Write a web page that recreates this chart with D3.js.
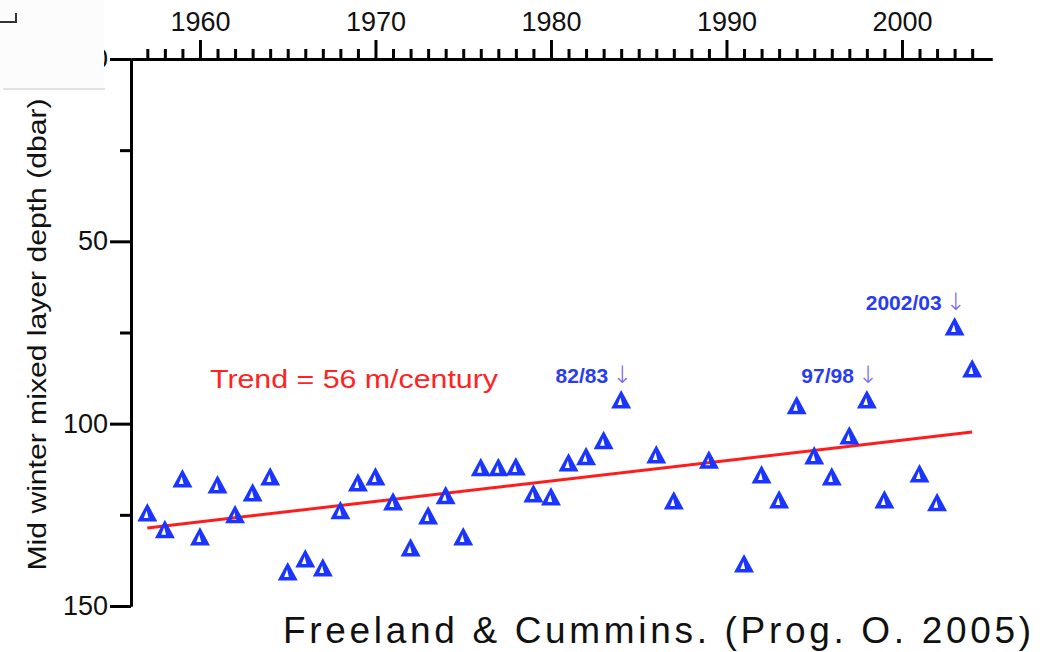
<!DOCTYPE html>
<html>
<head>
<meta charset="utf-8">
<script src="https://cdn.jsdelivr.net/npm/d3@7"></script>
<style>
  body { margin: 0; background: #fff; }
  svg { display: block; }
  .axis path, .axis line { stroke: #000; stroke-width: 3; }
  .axis text { font-family: "Liberation Sans", Arial, sans-serif; font-size: 27px; fill: #111; }
</style>
</head>
<body>
<svg id="chart" width="1048" height="652"></svg>
<script>
// winter mixed layer depth by year (dbar)
const years = [1957, 1958, 1959, 1960, 1961, 1962, 1963, 1964, 1965, 1966, 1967, 1968, 1969, 1970,
  1971, 1972, 1973, 1974, 1975, 1976, 1977, 1978, 1979, 1980, 1981, 1982, 1983, 1984,
  1986, 1987, 1989, 1991, 1992, 1993, 1994, 1995, 1996, 1997, 1998, 1999, 2001, 2002, 2003, 2004];
const depths = [124.5, 129.1, 115.2, 131.1, 116.8, 125.0, 119.0, 114.6, 140.7, 137.1, 139.6, 123.9, 116.3, 114.6,
  121.5, 134.1, 125.3, 119.8, 131.1, 112.1, 112.1, 111.9, 119.3, 120.1, 110.8, 109.1, 104.7, 93.5,
  108.6, 121.2, 110.0, 138.5, 114.1, 120.9, 95.1, 108.9, 114.6, 103.4, 93.5, 120.9, 113.8, 121.7, 73.5, 85.0];

const trendYears = [1957, 2004];
const trendDepths = [128.6, 102.3];

const noteLabels = ["82/83", "97/98", "2002/03"];
const noteYears = [1984, 1998, 2003];

const yearTicks = d3.range(1957, 2005);
const decadeTicks = [1960, 1970, 1980, 1990, 2000];
const depthTicks = [0, 50, 100, 150];
const depthMinor = [25, 75, 125];

const svg = d3.select("#chart");

const x = d3.scaleLinear().domain([1956.07, 2005.13]).range([131, 992]);
const y = d3.scaleLinear().domain([0, 150]).range([59, 606]);

// axes
svg.append("g").attr("class", "axis")
  .attr("transform", "translate(0," + y(0) + ")")
  .call(d3.axisTop(x).tickValues(yearTicks.filter(d => d % 10 != 0)).tickSize(10).tickSizeOuter(0).tickFormat(""));
svg.append("g").attr("class", "axis")
  .attr("transform", "translate(0," + y(0) + ")")
  .call(d3.axisTop(x).tickValues(decadeTicks).tickSize(19).tickSizeOuter(0).tickPadding(9).tickFormat(d3.format("d")));

svg.append("g").attr("class", "axis")
  .attr("transform", "translate(" + x.range()[0] + ",0)")
  .call(d3.axisLeft(y).tickValues(depthMinor).tickSize(11).tickSizeOuter(0).tickFormat(""));
svg.append("g").attr("class", "axis")
  .attr("transform", "translate(" + x.range()[0] + ",0)")
  .call(d3.axisLeft(y).tickValues(depthTicks).tickSize(21).tickSizeOuter(0).tickPadding(2));

// pasted-over corner of the original slide
svg.append("rect").attr("x", 0).attr("y", 0).attr("width", 104).attr("height", 88).attr("fill", "#fcfcfc");
svg.append("line").attr("x1", 3).attr("x2", 105).attr("y1", 89).attr("y2", 89)
  .attr("stroke", "#d8d8d8").attr("stroke-width", 1.5);
svg.append("path").attr("d", "M0,22H16V13").attr("fill", "none").attr("stroke", "#333").attr("stroke-width", 2);

// y label
svg.append("text")
  .attr("transform", "translate(46," + ((y(0) + y(150)) / 2 + 2) + ") rotate(-90)")
  .attr("text-anchor", "middle")
  .attr("textLength", 472).attr("lengthAdjust", "spacingAndGlyphs")
  .style("font-family", "Liberation Sans, Arial, sans-serif")
  .style("font-size", "25px").style("fill", "#111")
  .text("Mid winter mixed layer depth (dbar)");

// trend line
const line = d3.line().x(d => x(d[0])).y(d => y(d[1]));
svg.append("path")
  .datum(d3.zip(trendYears, trendDepths))
  .attr("d", line)
  .attr("fill", "none").attr("stroke", "#ff1c1c").attr("stroke-width", 3);

svg.append("text")
  .attr("x", 210).attr("y", 388)
  .attr("textLength", 288).attr("lengthAdjust", "spacingAndGlyphs")
  .style("font-family", "Liberation Sans, Arial, sans-serif")
  .style("font-size", "26px").style("fill", "#ff2222")
  .text("Trend = 56 m/century");

// triangles
svg.selectAll(".pt")
  .data(d3.zip(years, depths))
  .enter().append("path")
  .attr("class", "pt")
  .attr("transform", d => "translate(" + x(d[0]) + "," + y(d[1]) + ")")
  .attr("d", "M0,-10L10,8.5L-10,8.5Z M-0.7,-2.5L-3.6,5L1.2,5Z")
  .attr("fill", "#1a35ff").attr("fill-rule", "evenodd");

// event notes
const notes = svg.selectAll(".note")
  .data(d3.zip(noteLabels, noteYears))
  .enter().append("g")
  .attr("class", "note")
  .attr("transform", d => "translate(" + x(d[1]) + "," + (y(depths[years.indexOf(d[1])]) - 17) + ")");
notes.append("text")
  .attr("x", -13)
  .attr("text-anchor", "end")
  .style("font-family", "Liberation Sans, Arial, sans-serif")
  .style("font-size", "21px").style("font-weight", "bold").style("fill", "#2a3cf2")
  .text(d => d[0]);
notes.append("text")
  .attr("x", 1)
  .attr("text-anchor", "middle")
  .style("font-family", "DejaVu Sans, sans-serif")
  .style("font-size", "24px").style("font-weight", "200").style("fill", "#7466f5")
  .text("\u2193");

// citation
svg.append("text")
  .attr("x", 283).attr("y", 643)
  .attr("textLength", 748).attr("lengthAdjust", "spacing")
  .style("font-family", "Liberation Sans, Arial, sans-serif")
  .style("font-size", "37px").style("fill", "#111")
  .text("Freeland & Cummins. (Prog. O. 2005)");
</script>
</body>
</html>
